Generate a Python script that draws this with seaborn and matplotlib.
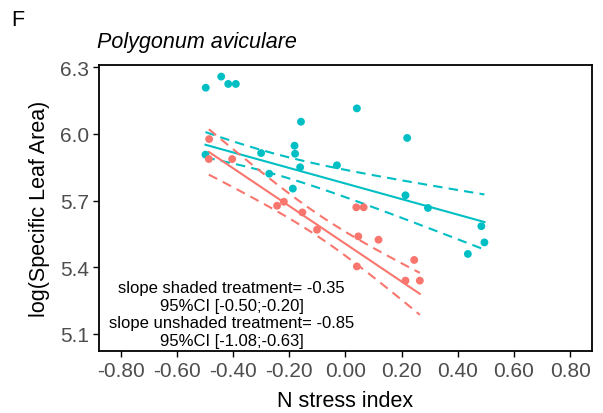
import numpy as np
import pandas as pd
import matplotlib
matplotlib.use("Agg")
import matplotlib.pyplot as plt
import seaborn as sns

# points
shaded_x = [-0.497, -0.442, -0.417, -0.390, -0.158, -0.498, -0.300, -0.271, -0.181, -0.179,
            -0.161, -0.030, -0.187, 0.041, 0.220, 0.214, 0.294, 0.484, 0.495, 0.436]
shaded_y = [6.208, 6.258, 6.225, 6.225, 6.055, 5.907, 5.914, 5.821, 5.947, 5.911,
            5.850, 5.859, 5.754, 6.115, 5.982, 5.724, 5.667, 5.585, 5.512, 5.460]
unshaded_x = [-0.485, -0.486, -0.403, -0.243, -0.219, -0.153, -0.101, 0.039, 0.065, 0.046,
              0.118, 0.041, 0.245, 0.214, 0.265]
unshaded_y = [5.977, 5.887, 5.887, 5.677, 5.695, 5.647, 5.569, 5.670, 5.670, 5.539,
              5.524, 5.404, 5.433, 5.340, 5.340]

# model fits (intercept, slope) and CI band shape
groups = ["shaded", "unshaded"]
intercepts = [5.777, 5.506]
slopes = [-0.35, -0.85]
slope_ci = [(-0.50, -0.20), (-1.08, -0.63)]
band_min = [0.046, 0.05]
band_center = [-0.272, -0.09]
colors = {"shaded": "#00BFC4", "unshaded": "#F8766D"}

pts = pd.concat([
    pd.DataFrame({"x": shaded_x, "y": shaded_y, "grp": "shaded"}),
    pd.DataFrame({"x": unshaded_x, "y": unshaded_y, "grp": "unshaded"}),
])

plt.rcParams["font.family"] = ["Liberation Sans", "DejaVu Sans"]
fig = plt.figure(figsize=(6.03, 4.14), dpi=100)
ax = fig.add_axes([0.1642, 0.1498, 0.9813 - 0.1642, 0.8394 - 0.1498])

for i, g in enumerate(groups):
    sub = pts[pts.grp == g]
    xs = np.linspace(sub.x.min(), sub.x.max(), 100)
    fit = intercepts[i] + slopes[i] * xs
    half_slope = (slope_ci[i][1] - slope_ci[i][0]) / 2
    h = np.sqrt(band_min[i] ** 2 + (half_slope * (xs - band_center[i])) ** 2)
    sns.lineplot(x=xs, y=fit, color=colors[g], lw=1.5, ax=ax)
    for band in (fit + h, fit - h):
        sns.lineplot(x=xs, y=band, color=colors[g], lw=1.5, ax=ax,
                     dashes=False, linestyle=(0, (4.5, 3)))

sns.scatterplot(data=pts, x="x", y="y", hue="grp", palette=colors, s=32,
                edgecolor="none", legend=False, ax=ax, zorder=3)

ax.set_xlim(-0.877, 0.877)
ax.set_ylim(5.0235, 6.308)
ticks = np.arange(-0.8, 0.81, 0.2)
ax.set_xticks(ticks)
ax.set_xticklabels([f"{v:.2f}".replace("-0.00", "0.00") for v in ticks])
ax.set_yticks([5.1, 5.4, 5.7, 6.0, 6.3])
ax.set_yticklabels(["5.1", "5.4", "5.7", "6.0", "6.3"])
ax.tick_params(colors="black", labelcolor="#4D4D4D", labelsize=15, length=4, width=1, pad=3)
for s in ax.spines.values():
    s.set_linewidth(1.3)

ax.set_xlabel("N stress index", fontsize=15.5, color="black")
ax.xaxis.label.set_va("baseline")
ax.xaxis.set_label_coords(0.5, (352 - 407) / 285.5)
ax.set_ylabel("log(Specific Leaf Area)", fontsize=15.5, color="black")
ax.yaxis.label.set_va("center")
ax.yaxis.set_label_coords((39 - 99) / 492.7, 0.5)

ax.text(-0.405, 5.19,
        "slope shaded treatment= -0.35\n95%CI [-0.50;-0.20]\n"
        "slope unshaded treatment= -0.85\n95%CI [-1.08;-0.63]",
        ha="center", va="center", fontsize=12, linespacing=1.2)

fig.text(97 / 603, 1 - 48 / 414, "Polygonum aviculare", style="italic",
         fontsize=15.5, ha="left", va="baseline")
fig.text(11 / 603, 1 - 26 / 414, "F", fontsize=15.5, ha="left", va="baseline")

fig.savefig("out.png", dpi=100)
